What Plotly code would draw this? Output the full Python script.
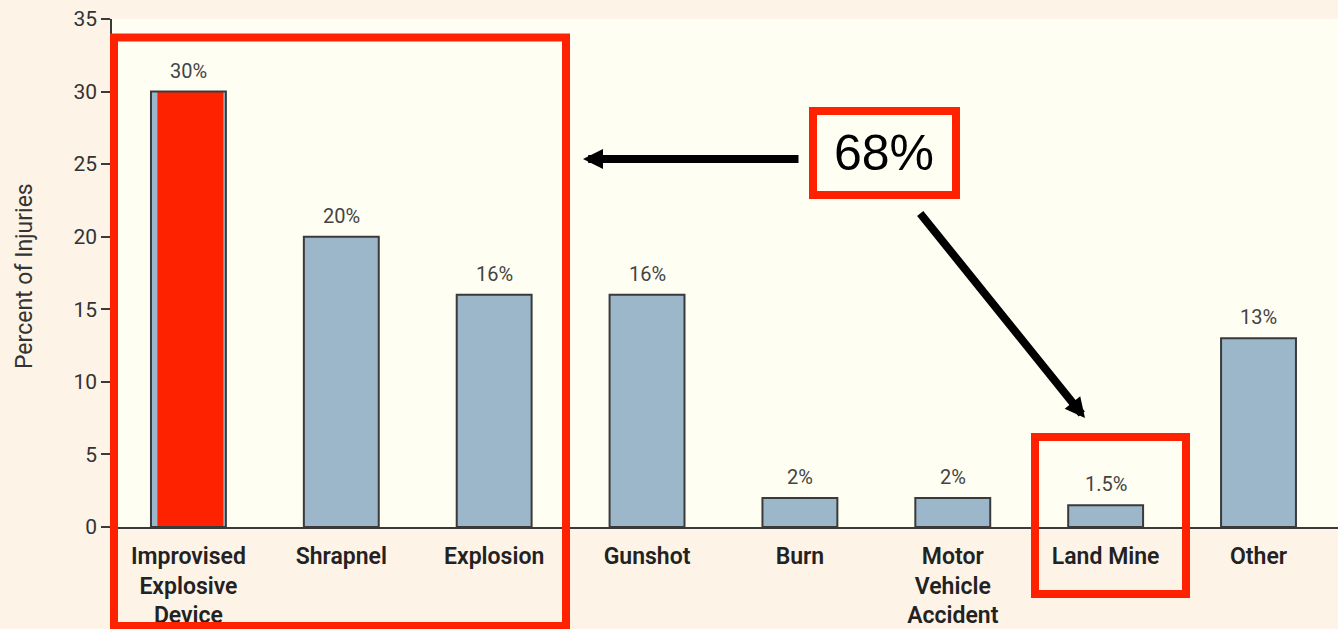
import plotly.graph_objects as go

# Share of injuries by mechanism
categories = [
    "Improvised<br>Explosive<br>Device",
    "Shrapnel",
    "Explosion",
    "Gunshot",
    "Burn",
    "Motor<br>Vehicle<br>Accident",
    "Land Mine",
    "Other",
]
percent = [30, 20, 16, 16, 2, 2, 1.5, 13]
value_labels = ["30%", "20%", "16%", "16%", "2%", "2%", "1.5%", "13%"]
y_ticks = [0, 5, 10, 15, 20, 25, 30, 35]
highlight_index = 0
grouped_share = "68%"

PAPER_BG = "#FDF3E7"
PLOT_BG = "#FFFEF3"
BAR_BLUE = "#9BB7C9"
OUTLINE = "#3A3A3A"
RED = "#FF2200"
TEXT_FONT = "Roboto, Open Sans, sans-serif"

W, H = 1338, 629
L, R, T, B = 112, 0, 19, 102


def px(x):
    """Pixel column -> paper x."""
    return (x - L) / (W - L - R)


def py(y):
    """Pixel row -> paper y."""
    return (H - B - y) / (H - T - B)


x_idx = list(range(len(categories)))

fig = go.Figure()
# blue bars
fig.add_bar(x=x_idx, y=percent, width=0.49,
            marker=dict(color=BAR_BLUE, line=dict(width=0)), hoverinfo="skip")
# red fill highlighting the largest category
fig.add_bar(x=[highlight_index + 0.013], y=[percent[highlight_index]], width=0.432,
            marker=dict(color=RED, line=dict(width=0)), hoverinfo="skip")
# dark outlines on top
fig.add_bar(x=x_idx, y=percent, width=0.49,
            marker=dict(color="rgba(0,0,0,0)", line=dict(color=OUTLINE, width=2)),
            hoverinfo="skip")

annotations = []
for i, (v, lab) in enumerate(zip(percent, value_labels)):
    annotations.append(dict(x=i, y=v, xref="x", yref="y", text=lab, showarrow=False,
                            yshift=21, yanchor="middle", xanchor="center",
                            font=dict(family=TEXT_FONT, size=20, color="#444444")))

# y-axis title
annotations.append(dict(x=px(24), y=py(276), xref="paper", yref="paper",
                        xanchor="center", yanchor="middle",
                        text="Percent of Injuries", textangle=-90, showarrow=False,
                        font=dict(family=TEXT_FONT, size=23, color="#333333")))

# grouped share callout
annotations.append(dict(x=px(884), y=py(153), xref="paper", yref="paper",
                        xanchor="center", yanchor="middle",
                        text=grouped_share, showarrow=False,
                        font=dict(family="Liberation Sans, Arial, sans-serif", size=50,
                                  color="black")))

# arrows from the callout
annotations.append(dict(x=px(583), y=py(159), xref="paper", yref="paper", text="",
                        showarrow=True, ax=217, ay=0, arrowhead=2, arrowsize=0.5,
                        arrowwidth=8, arrowcolor="black", standoff=0))
annotations.append(dict(x=px(1085), y=py(418), xref="paper", yref="paper", text="",
                        showarrow=True, ax=-166, ay=-206, arrowhead=2, arrowsize=0.5,
                        arrowwidth=8, arrowcolor="black", standoff=0))

shapes = [
    dict(type="rect", xref="paper", yref="paper", x0=px(114), x1=px(566),
         y0=py(626), y1=py(37.5), line=dict(color=RED, width=8), layer="above"),
    dict(type="rect", xref="paper", yref="paper", x0=px(813), x1=px(956),
         y0=py(195), y1=py(111), line=dict(color=RED, width=8), layer="above"),
    dict(type="rect", xref="paper", yref="paper", x0=px(1035), x1=px(1186),
         y0=py(594), y1=py(437), line=dict(color=RED, width=8), layer="above"),
]

fig.update_layout(
    width=W, height=H,
    margin=dict(l=L, r=R, t=T, b=B, pad=0),
    paper_bgcolor=PAPER_BG,
    plot_bgcolor=PLOT_BG,
    barmode="overlay",
    showlegend=False,
    shapes=shapes,
    annotations=annotations,
    xaxis=dict(range=[-0.5, 7.52], tickmode="array", tickvals=x_idx, ticktext=categories,
               showline=True, linecolor=OUTLINE, linewidth=2, ticks="",
               ticklabelstandoff=7, showgrid=False, zeroline=False,
               tickfont=dict(family=TEXT_FONT, size=23, color="#222222", weight=600)),
    yaxis=dict(range=[0, 35], tickmode="array", tickvals=y_ticks, ticks="outside",
               ticklen=9, tickwidth=1.5, tickcolor=OUTLINE, showline=True,
               linecolor=OUTLINE, linewidth=1.5, showgrid=False, zeroline=False,
               tickfont=dict(family=TEXT_FONT, size=21, color="#333333")),
)

fig.write_html("out.html")
